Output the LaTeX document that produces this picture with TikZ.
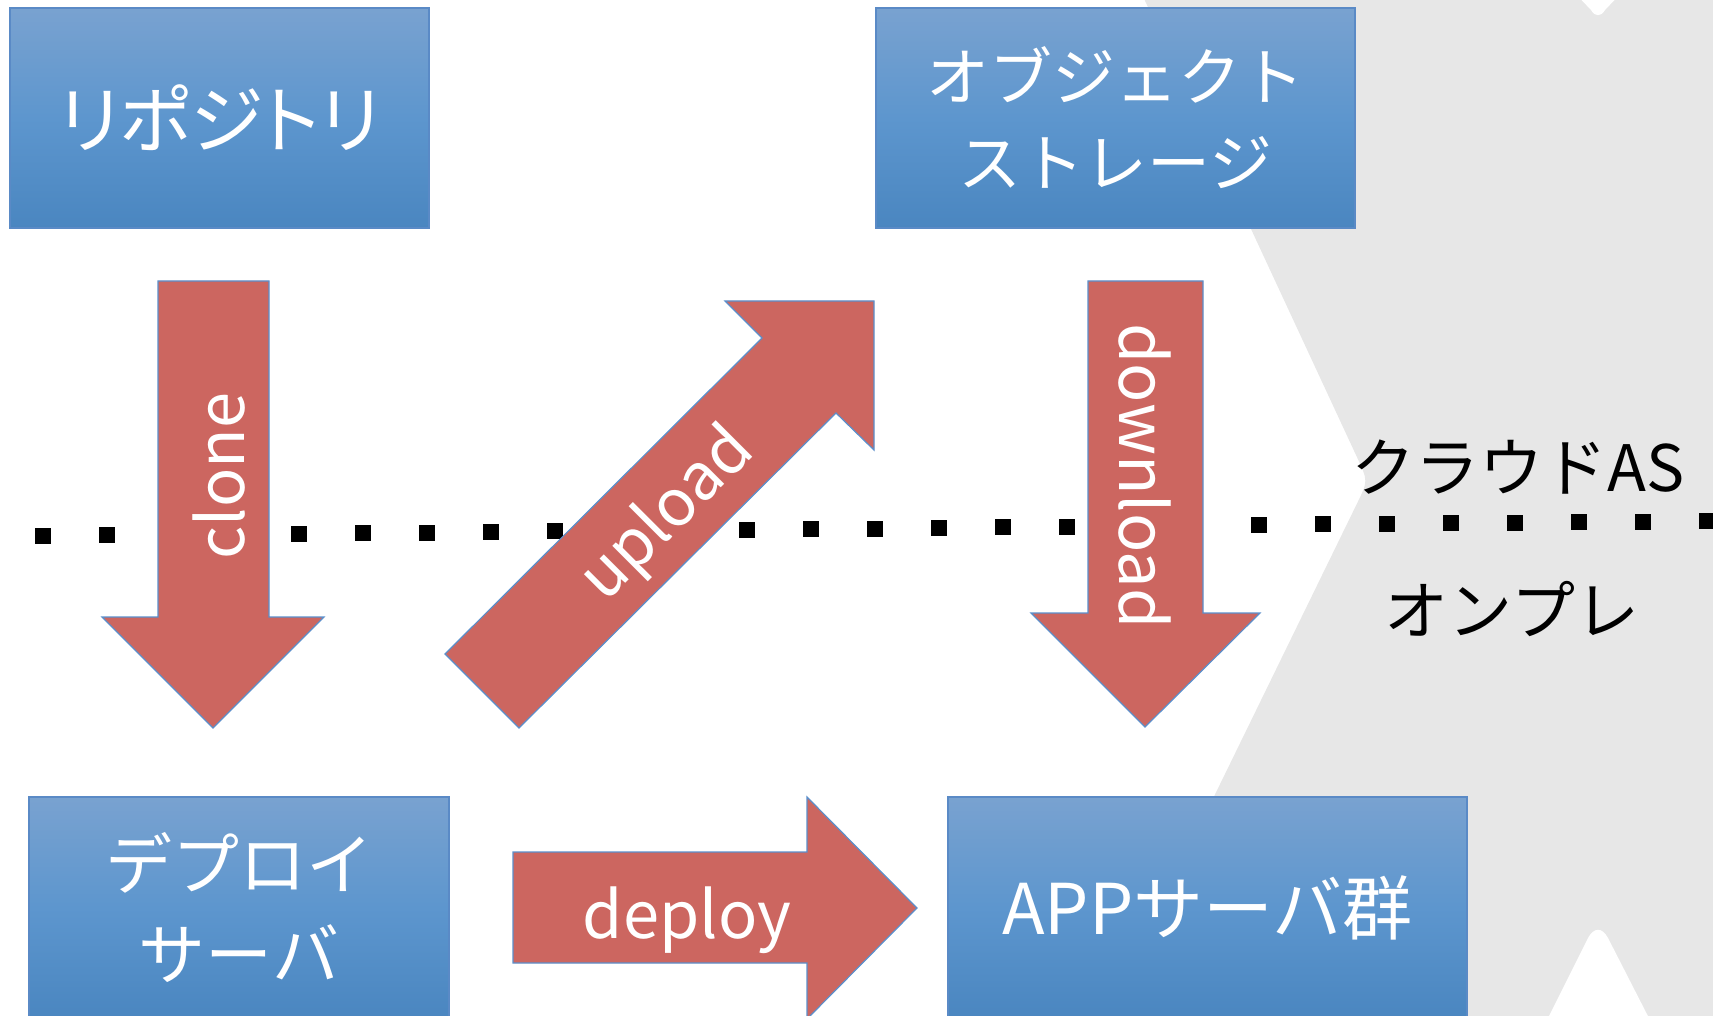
\documentclass[tikz,border=0pt]{standalone}
\usepackage{fontspec}
\setmainfont{Noto Sans CJK JP}

\definecolor{boxtop}{HTML}{79A2D0}
\definecolor{boxmid}{HTML}{5D96CE}
\definecolor{boxbot}{HTML}{4A86C0}
\definecolor{boxedge}{HTML}{5A8AC6}
\definecolor{arrowred}{HTML}{CC6660}
\definecolor{arrowedge}{HTML}{5B8FCB}
\definecolor{bggray}{HTML}{E7E7E7}

\tikzset{
  svbox/.style={draw=boxedge, line width=0.75pt, top color=boxtop,
    bottom color=boxbot, middle color=boxmid, text=white, align=center,
    inner sep=0pt},
  bigjp/.style={font=\fontsize{35pt}{42pt}\selectfont},
  tightjp/.style={font=\fontsize{37pt}{44pt}\selectfont\addfontfeature{RawFeature=+palt}},
  twojp/.style={font=\fontsize{31.5pt}{43pt}\selectfont},
  twojpb/.style={font=\fontsize{33.5pt}{45pt}\selectfont},
  blockarrow/.style={fill=arrowred, draw=arrowedge, line width=0.6pt},
  arrowlabel/.style={text=white, inner sep=0pt,
    font=\fontsize{32.5pt}{40pt}\selectfont},
  zonelabel/.style={text=black, inner sep=0pt,
    font=\fontsize{32pt}{40pt}\selectfont},
  gridsq/.style={fill=black}
}

\begin{document}
\begin{tikzpicture}[x=0.5pt, y=-0.5pt]
  \useasboundingbox (0,0) rectangle (1713,1016);
  \clip (0,0) rectangle (1713,1016);

  % on-premises zone on the right, with its rounded vertex
  \fill[bggray] (1140,-10) -- (1357.5,458.3) .. controls (1368,481) .. (1357,503.5)
    -- (1102,1026) -- (1723,1026) -- (1723,-10) -- cycle;
  % gaps between the zone tiles
  \fill[white] (1572,-10) -- (1591,10) .. controls (1595,17) and (1601,17) .. (1605,10)
    -- (1624,-10) -- cycle;
  \fill[white] (1544,1026) -- (1588,938) .. controls (1594,927) and (1602,927) .. (1608,938)
    -- (1653,1026) -- cycle;

  % dotted boundary between cloud and on-premises
  \foreach \k in {0,...,26} {
    \pgfmathsetmacro\dx{43+64*\k}
    \pgfmathsetmacro\dy{536-0.577*\k}
    \fill[gridsq] (\dx-8,\dy-8) rectangle (\dx+8,\dy+8);
  }

  % servers and storage
  \node[svbox, tightjp, minimum width=209.5pt, minimum height=110pt]
    (repo) at (219.5,118) {リポジトリ};
  \node[svbox, twojp, minimum width=239.5pt, minimum height=110pt]
    (objst) at (1115.5,118) {オブジェクト\\ストレージ};
  \node[svbox, twojpb, minimum width=210pt, minimum height=110.5pt]
    (deploysrv) at (239,907.5) {デプロイ\\サーバ};
  \node[svbox, bigjp, minimum width=259.5pt, minimum height=110.5pt]
    (appsrv) at (1207.5,907.5) {APPサーバ群};

  % block arrows
  \path[blockarrow] (158,281) -- (269,281) -- (269,617) -- (324,617)
    -- (213,728) -- (102,617) -- (158,617) -- cycle;
  \path[blockarrow] (445,654) -- (762,338) -- (725,301) -- (874,301)
    -- (874,450) -- (836,413) -- (519,728) -- cycle;
  \path[blockarrow] (1088,281) -- (1203,281) -- (1203,613) -- (1260,613)
    -- (1145,727) -- (1031,613) -- (1088,613) -- cycle;
  \path[blockarrow] (513,852) -- (807,852) -- (807,797) -- (917,908)
    -- (807,1019) -- (807,963) -- (513,963) -- cycle;

  % arrow labels
  \node[arrowlabel, rotate=90] (clonelbl) at (219,476) {clone};
  \node[arrowlabel, rotate=45] (uploadlbl) at (668,515) {upload};
  \node[arrowlabel, rotate=-90] (downloadlbl) at (1145,476) {download};
  \node[arrowlabel] (deploylbl) at (687,920) {deploy};

  % zone names
  \node[zonelabel] (cloudlbl) at (1518,467) {クラウドAS};
  \node[zonelabel] (onprelbl) at (1512,609) {オンプレ};
\end{tikzpicture}
\end{document}
